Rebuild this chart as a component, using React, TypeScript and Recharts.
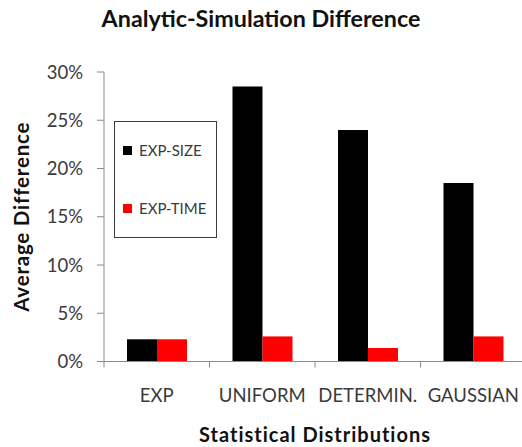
import React from 'react';
import { BarChart, Bar, XAxis, YAxis } from 'recharts';

const categories = ['EXP', 'UNIFORM', 'DETERMIN.', 'GAUSSIAN'];
const expSize = [0.023, 0.285, 0.240, 0.185];
const expTime = [0.023, 0.026, 0.014, 0.026];
const yTicks = [0, 0.05, 0.1, 0.15, 0.2, 0.25, 0.3];
const seriesNames = ['EXP-SIZE', 'EXP-TIME'];
const seriesColors = ['#000000', '#ff0000'];

const data = categories.map((c, i) => ({ name: c, size: expSize[i], time: expTime[i] }));

const FONT = 'Lato, "Open Sans", sans-serif';
const TEXT = '#3a3a3a';
const AXIS = '#8a8a8a';

const XTick = (props: any) => {
  const { x, y, payload, index } = props;
  const half = payload && payload.offset ? payload.offset : 52.6;
  return (
    <g>
      <line x1={x - half} y1={y - 8} x2={x - half} y2={y - 2} stroke={AXIS} strokeWidth={1} />
      {index === categories.length - 1 && (
        <line x1={x + half} y1={y - 8} x2={x + half} y2={y - 2} stroke={AXIS} strokeWidth={1} />
      )}
      <text x={x} y={y + 32} textAnchor="middle" fill={TEXT} fontSize={18.5} fontFamily={FONT}>
        {payload.value}
      </text>
    </g>
  );
};

const LegendBox = () => (
  <div
    style={{
      position: 'absolute',
      left: 114,
      top: 121,
      width: 101,
      height: 115,
      border: '1px solid #3c3c3c',
      background: '#fff',
      fontFamily: FONT,
      fontSize: 15,
      color: TEXT,
    }}
  >
    {seriesNames.map((label, i) => (
      <div key={label} style={{ position: 'absolute', left: 8, top: i === 0 ? 19 : 77, display: 'flex', alignItems: 'center' }}>
        <span style={{ display: 'inline-block', width: 9, height: 9, background: seriesColors[i], marginRight: 7 }} />
        <span>{label}</span>
      </div>
    ))}
  </div>
);

export default function App() {
  return (
    <div style={{ position: 'absolute', left: 0, top: 0, width: 522, height: 447, overflow: 'hidden', background: '#fff' }}>
      <div
        style={{
          position: 'absolute',
          left: 0,
          width: 522,
          top: 4,
          textAlign: 'center',
          fontFamily: FONT,
          fontWeight: 700,
          fontSize: 23.3,
          color: '#111',
        }}
      >
        Analytic-Simulation Difference
      </div>
      <BarChart
        width={526}
        height={447}
        data={data}
        margin={{ top: 72, right: 0, bottom: 0, left: 0 }}
        barGap={0}
        barSize={30}
      >
        <XAxis
          dataKey="name"
          height={85.5}
          axisLine={{ stroke: AXIS }}
          tickLine={false}
          tick={<XTick />}
          interval={0}
          label={{
            content: (p: any) => {
              const vb = p.viewBox;
              return (
                <text
                  x={vb.x + vb.width / 2}
                  y={vb.y + 80}
                  textAnchor="middle"
                  fill="#111"
                  fontSize={20}
                  fontWeight={700}
                  letterSpacing={1}
                  fontFamily={FONT}
                >
                  Statistical Distributions
                </text>
              );
            },
          }}
        />
        <YAxis
          width={104}
          domain={[0, 0.3]}
          ticks={yTicks}
          tickFormatter={(v: number) => `${Math.round(v * 100)}%`}
          axisLine={{ stroke: AXIS }}
          tickLine={{ stroke: AXIS }}
          tickSize={7}
          tickMargin={14}
          tick={{ fill: TEXT, fontSize: 18.5, fontFamily: FONT }}
          label={{
            content: (p: any) => {
              const vb = p.viewBox;
              const cy = vb.y + vb.height / 2;
              return (
                <text
                  x={29}
                  y={cy}
                  transform={`rotate(-90, 29, ${cy})`}
                  textAnchor="middle"
                  fill="#111"
                  fontSize={20.5}
                  fontWeight={700}
                  letterSpacing={0.8}
                  fontFamily={FONT}
                >
                  Average Difference
                </text>
              );
            },
          }}
        />
        <Bar dataKey="size" name={seriesNames[0]} fill={seriesColors[0]} isAnimationActive={false} />
        <Bar dataKey="time" name={seriesNames[1]} fill={seriesColors[1]} isAnimationActive={false} />
      </BarChart>
      <LegendBox />
    </div>
  );
}
